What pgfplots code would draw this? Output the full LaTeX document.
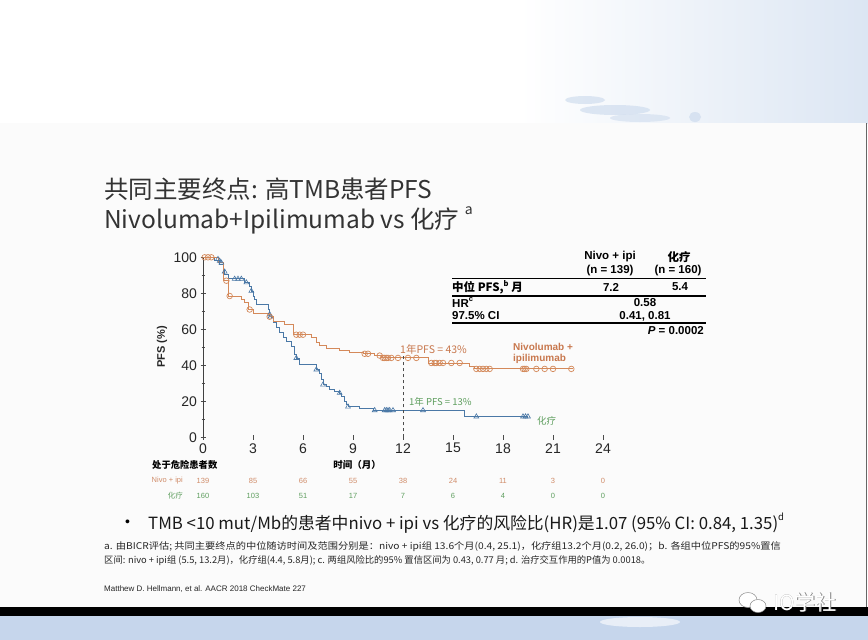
\documentclass[border=0pt]{standalone}
\usepackage{pgfplots}
\pgfplotsset{compat=1.18}
\usepackage{fontspec}
\setmainfont{Liberation Sans}
\newfontfamily\cjk{Noto Sans CJK SC}
\definecolor{orangeC}{HTML}{D4895A}
\definecolor{blueC}{HTML}{4A78A6}
\definecolor{greenT}{HTML}{5E9E5E}
\definecolor{orangeT}{HTML}{C8784E}
\definecolor{skyA}{HTML}{DCE6F3}
\definecolor{cloudC}{HTML}{C9D8EC}
\definecolor{slideC}{HTML}{FBFBFB}
\definecolor{botC}{HTML}{C6D6EC}
\newcommand{\fs}[1]{\fontsize{#1}{#1}\selectfont}
\begin{document}
\begin{tikzpicture}[x=1pt,y=1pt]
\useasboundingbox (0,0) rectangle (868,-640);
% ---- background ----
\fill[white] (0,0) rectangle (868,-123);
\shade[left color=white, right color=skyA] (520,0) rectangle (868,-123);
\fill[cloudC, opacity=0.6] (585,-100) ellipse (20 and 4);
\fill[cloudC, opacity=0.6] (615,-110) ellipse (35 and 5);
\fill[cloudC, opacity=0.5] (640,-118) ellipse (30 and 4);
\fill[cloudC, opacity=0.6] (695,-117) ellipse (6 and 5);
\fill[slideC] (0,-123) rectangle (866,-607);
\draw[black!60, line width=0.8pt] (866,-123) -- (866,-607);
\fill[botC] (0,-616) rectangle (868,-640);
\fill[white, opacity=0.6] (640,-622) ellipse (40 and 5);
\fill[black] (0,-607) rectangle (868,-616);
% ---- title ----
\node[anchor=base west, inner sep=0, text=black!80] at (104,-198) {\cjk\fs{24.5}共同主要终点: 高TMB患者PFS};
\node[anchor=base west, inner sep=0, text=black!80] at (104,-228) {\cjk\fs{24.5}Nivolumab+Ipilimumab vs 化疗 \raisebox{0.55em}{\fs{14}a}};
% ---- KM plot ----
\begin{axis}[
  at={(203pt,-437.3pt)}, anchor=south west,
  scale only axis, width=400pt, height=180pt,
  xmin=0, xmax=24, ymin=0, ymax=100,
  xtick={0,3,...,24}, ytick={0,20,...,100},
  minor ytick={10,30,50,70,90},
  axis x line=bottom, axis y line=left,
  axis line style={-, draw=black!75, line width=0.8pt},
  x axis line style={draw=none},
  tick align=center,
  major tick length=5pt, minor tick length=3pt,
  tick style={black!70, line width=0.8pt},
  tick label style={font=\fs{14}, text=black!85},
  /pgf/number format/assume math mode=true,
  clip=false,
]
\addplot[const plot, blueC, line width=0.9pt] coordinates {
(0,100) (0.7,98.5) (1.0,96) (1.2,92.5) (1.3,90.7) (1.5,88) (2.5,86) (2.8,84)
(2.9,81.3) (3.0,78.5) (3.1,76.7) (3.2,74) (3.9,71) (4.0,68.3) (4.1,66.5)
(4.2,63.7) (4.4,61) (4.6,58) (4.8,55.3) (5.0,53.4) (5.3,50.6) (5.5,46)
(5.6,44) (5.8,40.4) (6.8,37.6) (7.0,35.7) (7.1,32) (7.2,29.2) (7.4,28)
(7.6,26.4) (7.9,25.5) (8.2,24.6) (8.3,22.7) (8.5,19.9) (8.6,18.1) (8.7,17)
(9.4,16) (10.2,15) (15.7,11.5) (19.5,11.5)};
\addplot[only marks, mark=triangle, mark size=2.8pt, blueC, mark options={line width=0.6pt}] coordinates {
(0.9,99) (1.0,98) (1.1,97) (1.3,92) (1.9,88) (2.1,88) (2.3,88) (2.6,86)
(2.9,81.3) (4.0,68.3) (4.05,67) (5.6,44) (6.8,37.6) (7.2,29.2) (8.2,24.6)
(8.7,17) (10.3,15) (10.9,15) (11.0,15) (11.1,15) (11.2,15) (11.4,15)
(13.2,15) (16.4,11.5) (19.2,11.5) (19.35,11.5) (19.5,11.5)};
\addplot[const plot, orangeC, line width=0.9pt] coordinates {
(0,100) (0.9,97) (1.2,87) (1.5,78.5) (2.3,76.7) (2.5,75) (2.7,71) (3.0,69)
(4.0,67) (4.2,64.6) (4.9,62.5) (5.4,57) (6.5,55.3) (6.8,52.5) (7.0,51)
(7.4,49.3) (8.2,48.4) (8.8,47.3) (9.6,46.4) (10.3,45.4) (10.7,44.1)
(13.5,41.3) (16.0,39.5) (16.3,38) (22.2,38)};
\addplot[only marks, mark=o, mark size=2.8pt, orangeC, mark options={line width=0.7pt}] coordinates {
(0.1,100) (0.3,100) (0.5,100) (1.4,87) (1.6,78.5) (2.8,71) (4.0,67)
(5.6,57) (5.8,57) (6.0,57) (9.7,46.4) (9.9,46.4) (10.6,45.4) (10.8,44.1)
(10.9,44.1) (11.0,44.1) (11.1,44.1) (11.3,44.1) (11.7,44.1) (12.3,44.1)
(12.8,44.1) (13.7,41.3) (13.9,41.3) (14.0,41.3) (14.2,41.3) (14.4,41.3)
(14.9,41.3) (15.4,41.3) (16.4,38) (16.6,38) (16.8,38) (17.0,38) (17.2,38)
(19.2,38) (19.3,38) (19.4,38) (20.0,38) (20.5,38) (21.0,38) (22.1,38)};
\addplot[black!70, dashed, line width=0.7pt] coordinates {(12,0) (12,45)};
\end{axis}
% axis label
\node[rotate=90, text=black!85] at (162,-347) {\fs{11}\bfseries PFS (\%)};
% annotations
\node[anchor=west, inner sep=0, text=orangeT] at (400,-349) {\cjk\fs{10.5}1年PFS = 43\%};
\node[anchor=west, inner sep=0, text=greenT] at (409,-402) {\cjk\fs{9.5}1年 PFS = 13\%};
\node[anchor=north west, inner sep=0, text=orangeT, align=left] at (513,-343) {\fs{10}\bfseries Nivolumab +\\[-0.5pt]\fs{10}\bfseries ipilimumab};
\node[anchor=west, inner sep=0, text=greenT] at (537,-421) {\cjk\fs{9.5}化疗};
% ---- results table ----
\node[text=black] at (610,-257) {\fs{11.5}\bfseries Nivo + ipi};
\node[text=black] at (610,-271) {\fs{11.5}\bfseries (n = 139)};
\node[text=black] at (679,-257) {\cjk\fs{11.5}\bfseries 化疗};
\node[text=black] at (678,-271) {\fs{11.5}\bfseries (n = 160)};
\draw[black, line width=1.2pt] (452,-278.5) -- (706,-278.5);
\node[anchor=west, inner sep=0] at (452,-287) {\cjk\fs{11.5}\bfseries 中位 PFS,\raisebox{0.45em}{\fs{7.5}b} 月};
\node at (611,-287) {\fs{11.5}\bfseries 7.2};
\node at (680,-287) {\fs{11.5}\bfseries 5.4};
\draw[black, line width=1.2pt] (452,-296) -- (706,-296);
\node[anchor=west, inner sep=0] at (452,-302.5) {\fs{11.5}\bfseries HR\raisebox{0.45em}{\fs{7.5}c}};
\node at (645,-302.5) {\fs{11.5}\bfseries 0.58};
\node[anchor=west, inner sep=0] at (452,-316) {\fs{11.5}\bfseries 97.5\% CI};
\node at (645,-316) {\fs{11.5}\bfseries 0.41, 0.81};
\draw[black, line width=1.2pt] (452,-323) -- (706,-323);
\node[anchor=east, inner sep=0] at (704,-331) {\fs{11.5}\bfseries\itshape P\upshape\ = 0.0002};
% ---- risk table ----
\node[anchor=west, inner sep=0] at (152,-465) {\cjk\fs{9.3}\bfseries 处于危险患者数};
\node at (357,-465) {\cjk\fs{9.5}\bfseries 时间（月）};
\node[anchor=east, inner sep=0, text=orangeT!85] at (183,-481) {\fs{7.5}Nivo + ipi};
\node[anchor=east, inner sep=0, text=greenT] at (183,-496) {\cjk\fs{7.5}化疗};
\foreach \v [count=\i from 0] in {139,85,66,55,38,24,11,3,0}
  \node[text=orangeT!85] at (203+50*\i,-481) {\fs{7.5}\v};
\foreach \v [count=\i from 0] in {160,103,51,17,7,6,4,0,0}
  \node[text=greenT] at (203+50*\i,-496) {\fs{7.5}\v};
% ---- bullet ----
\node[anchor=west, inner sep=0] at (125,-523) {\fs{14}•};
\node[anchor=west, inner sep=0, text=black!90] at (148,-523) {\cjk\fs{16.8}TMB <10 mut/Mb的患者中nivo + ipi vs 化疗的风险比(HR)是1.07 (95\% CI: 0.84, 1.35)\raisebox{0.5em}{\fs{9.5}d}};
% ---- footnotes ----
\node[anchor=west, inner sep=0, text=black!85] at (104,-547) {\scalebox{1.1}[1]{\cjk\fs{9.3}a. 由BICR评估; 共同主要终点的中位随访时间及范围分别是：nivo + ipi组 13.6个月(0.4, 25.1)，化疗组13.2个月(0.2, 26.0)；b. 各组中位PFS的95\%置信}};
\node[anchor=west, inner sep=0, text=black!85] at (104,-561) {\cjk\fs{9.3}区间: nivo + ipi组 (5.5, 13.2月)，化疗组(4.4, 5.8月); c. 两组风险比的95\% 置信区间为 0.43, 0.77 月; d. 治疗交互作用的\textit{P}值为 0.0018。};
\node[anchor=west, inner sep=0, text=black!85] at (104,-589) {\fs{8}Matthew D. Hellmann, et al. AACR 2018 CheckMate 227};
% ---- watermark ----
\draw[black!45, fill=white, line width=0.5pt] (748,-600) ellipse (9 and 7.5);
\draw[black!45, fill=white, line width=0.5pt] (758,-606) ellipse (8 and 6.5);
\node[text=black!50] at (805.6,-602.6) {\cjk\fs{21}IO学社};
\node[text=white] at (805,-602) {\cjk\fs{21}IO学社};
\end{tikzpicture}
\end{document}
